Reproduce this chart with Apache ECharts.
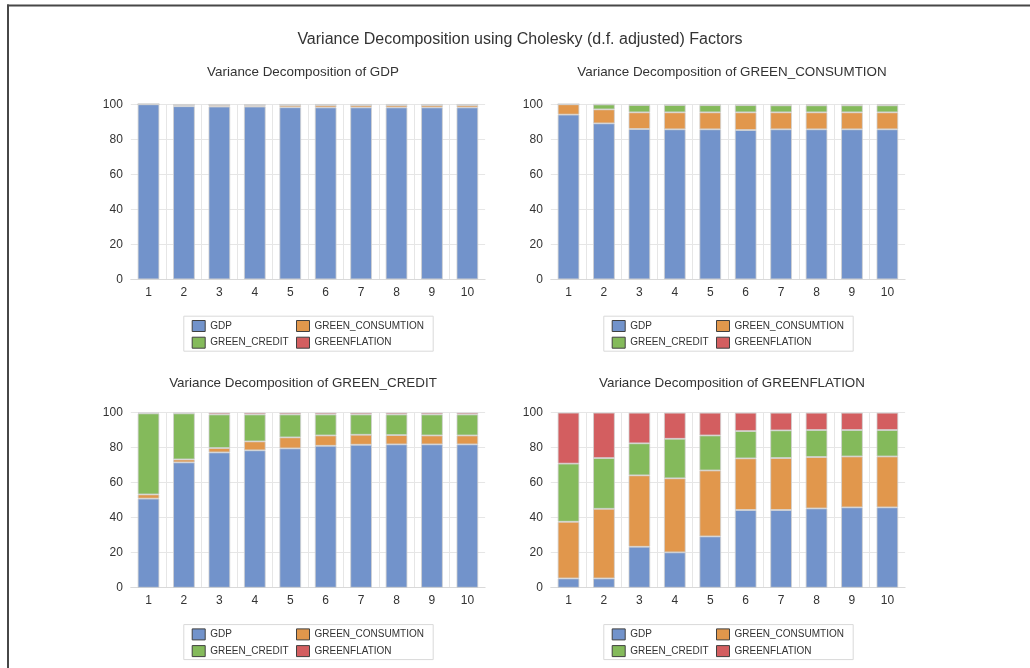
<!DOCTYPE html>
<html>
<head>
<meta charset="utf-8">
<script src="https://cdn.jsdelivr.net/npm/echarts@6/dist/echarts.min.js"></script>
<style>
html,body{margin:0;padding:0;background:#fff;}
#chart{width:1030px;height:668px;}
</style>
</head>
<body>
<div id="chart"></div>
<script>
const periods = ['1','2','3','4','5','6','7','8','9','10'];
const seriesNames = ['GDP','GREEN_CONSUMTION','GREEN_CREDIT','GREENFLATION'];
const mainTitle = 'Variance Decomposition using Cholesky (d.f. adjusted) Factors';
const panelTitles = ['Variance Decomposition of GDP','Variance Decomposition of GREEN_CONSUMTION','Variance Decomposition of GREEN_CREDIT','Variance Decomposition of GREENFLATION'];
const yTicks = [0, 100, 20];

// Panel 1: Variance Decomposition of GDP
const GDP_gdp    = [100, 98.9, 98.7, 98.7, 98.3, 98.2, 98.2, 98.2, 98.2, 98.2];
const GDP_cons   = [0, 0.6, 0.9, 0.7, 1.2, 1.3, 1.3, 1.3, 1.3, 1.3];
const GDP_credit = [0, 0.3, 0.2, 0.3, 0.3, 0.3, 0.3, 0.3, 0.3, 0.3];
const GDP_infl   = [0, 0.2, 0.2, 0.3, 0.2, 0.2, 0.2, 0.2, 0.2, 0.2];

// Panel 2: Variance Decomposition of GREEN_CONSUMTION
const CONS_gdp    = [94.1, 89.1, 85.9, 85.7, 85.7, 85.3, 85.7, 85.7, 85.7, 85.7];
const CONS_cons   = [5.9, 8.0, 9.5, 9.7, 9.7, 10.1, 9.7, 9.7, 9.7, 9.7];
const CONS_credit = [0, 2.8, 4.2, 4.2, 4.1, 4.1, 4.0, 4.0, 4.0, 4.0];
const CONS_infl   = [0, 0.1, 0.4, 0.4, 0.5, 0.5, 0.6, 0.6, 0.6, 0.6];

// Panel 3: Variance Decomposition of GREEN_CREDIT
const CRED_gdp    = [50.9, 71.6, 77.3, 78.5, 79.6, 81.1, 81.7, 81.9, 81.9, 81.9];
const CRED_cons   = [2.4, 1.7, 2.5, 5.1, 6.3, 5.9, 5.7, 5.3, 5.1, 5.1];
const CRED_credit = [46.3, 26.3, 19.2, 15.4, 13.1, 12.0, 11.6, 11.8, 12.0, 12.0];
const CRED_infl   = [0.4, 0.4, 1.0, 1.0, 1.0, 1.0, 1.0, 1.0, 1.0, 1.0];

// Panel 4: Variance Decomposition of GREENFLATION
const INFL_gdp    = [5.3, 5.3, 23.4, 20.2, 29.3, 44.4, 44.4, 45.3, 45.9, 45.9];
const INFL_cons   = [32.4, 39.8, 40.8, 42.3, 37.7, 29.5, 29.7, 29.4, 29.1, 29.1];
const INFL_credit = [33.2, 29.0, 18.3, 22.6, 20.0, 15.6, 15.8, 15.4, 15.1, 15.1];
const INFL_infl   = [29.1, 25.9, 17.5, 14.9, 13.0, 10.5, 10.1, 9.9, 9.9, 9.9];

const panelData = [
  [GDP_gdp, GDP_cons, GDP_credit, GDP_infl],
  [CONS_gdp, CONS_cons, CONS_credit, CONS_infl],
  [CRED_gdp, CRED_cons, CRED_credit, CRED_infl],
  [INFL_gdp, INFL_cons, INFL_credit, INFL_infl]
];

const colors = ['#7293CB', '#E1974C', '#84BA5B', '#D35E60'];
const textColor = '#333333';
const font = 'Liberation Sans, Arial, sans-serif';

const gridLefts = [130.8, 550.8, 130.8, 550.8];
const gridTops = [104.3, 104.3, 412.7, 412.7];
const gridW = 354.3, gridH = 175;
const titleX = [298, 727, 298, 727];
const titleY = [61, 61, 372, 372];
const legendBoxX = [183.3, 603.3, 183.3, 603.3];
const legendBoxY = [315.7, 315.7, 624.1, 624.1];

const grids = [], xAxes = [], yAxes = [], series = [], titles = [], legends = [], graphics = [];

titles.push({
  text: mainTitle, left: 515, top: 27, textAlign: 'center',
  textStyle: {fontFamily: font, fontSize: 16, fontWeight: 'normal', color: textColor}
});

for (let p = 0; p < 4; p++) {
  grids.push({left: gridLefts[p], top: gridTops[p], width: gridW, height: gridH, containLabel: false});
  xAxes.push({
    type: 'category', gridIndex: p, data: periods,
    axisTick: {show: false},
    axisLine: {show: true, lineStyle: {color: '#d9d9d9', width: 1}},
    axisLabel: {color: textColor, fontFamily: font, fontSize: 12, margin: 7},
    splitLine: {show: true, showMinLine: false, showMaxLine: false, lineStyle: {color: '#e6e6e6', width: 1}}
  });
  yAxes.push({
    type: 'value', gridIndex: p, min: yTicks[0], max: yTicks[1], interval: yTicks[2],
    axisLine: {show: false}, axisTick: {show: false},
    axisLabel: {color: textColor, fontFamily: font, fontSize: 12, margin: 8},
    splitLine: {show: true, lineStyle: {color: '#e6e6e6', width: 1}}
  });
  for (let s = 0; s < 4; s++) {
    series.push({
      type: 'bar', name: seriesNames[s], xAxisIndex: p, yAxisIndex: p,
      stack: 'panel' + p, data: panelData[p][s], barWidth: '61%',
      itemStyle: {color: colors[s], borderColor: '#d0d0d0', borderWidth: 0.8},
      emphasis: {disabled: true}
    });
  }
  titles.push({
    text: panelTitles[p], left: titleX[p], top: titleY[p], textAlign: 'center',
    textStyle: {fontFamily: font, fontSize: 13.4, fontWeight: 'normal', color: textColor}
  });
  const legBase = {
    orient: 'vertical', padding: 0, itemGap: 4.7, itemWidth: 13, itemHeight: 11,
    icon: 'rect', selectedMode: false,
    itemStyle: {borderColor: '#404040', borderWidth: 1},
    textStyle: {fontFamily: font, fontSize: 10, color: textColor, lineHeight: 11}
  };
  legends.push(Object.assign({}, legBase, {
    left: legendBoxX[p] + 8.4, top: legendBoxY[p] + 4.3, data: [seriesNames[0], seriesNames[2]]
  }));
  legends.push(Object.assign({}, legBase, {
    left: legendBoxX[p] + 112.7, top: legendBoxY[p] + 4.3, data: [seriesNames[1], seriesNames[3]]
  }));
  graphics.push({
    type: 'rect', silent: true,
    shape: {x: legendBoxX[p] + 0.5, y: legendBoxY[p] + 0.5, width: 249.4, height: 35},
    style: {fill: 'none', stroke: '#d9d9d9', lineWidth: 1}
  });
}

graphics.push({type: 'line', silent: true, shape: {x1: 7, y1: 5.5, x2: 1030, y2: 5.5}, style: {stroke: '#474747', lineWidth: 2}});
graphics.push({type: 'line', silent: true, shape: {x1: 8, y1: 4.5, x2: 8, y2: 668}, style: {stroke: '#474747', lineWidth: 2}});

const chart = echarts.init(document.getElementById('chart'), null, {renderer: 'canvas'});
chart.setOption({
  backgroundColor: '#ffffff',
  animation: false,
  title: titles,
  legend: legends,
  grid: grids,
  xAxis: xAxes,
  yAxis: yAxes,
  series: series,
  graphic: graphics
});
</script>
</body>
</html>
